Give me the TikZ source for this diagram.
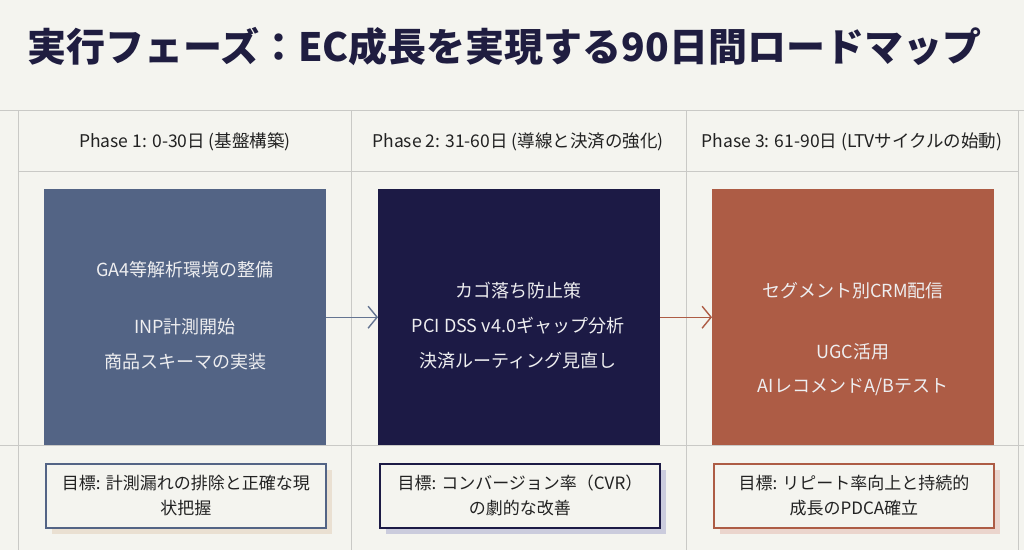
\documentclass[tikz,border=0pt]{standalone}
\usepackage{fontspec}
\setmainfont{Noto Sans CJK JP}
\usetikzlibrary{arrows.meta,shadows}
\definecolor{bg}{HTML}{F4F4EF}
\definecolor{gridc}{HTML}{C9C9C6}
\definecolor{titlec}{HTML}{1F1D40}
\definecolor{txt}{HTML}{222222}
\definecolor{cA}{HTML}{536485}
\definecolor{cB}{HTML}{1C1A45}
\definecolor{cC}{HTML}{AD5C45}
\definecolor{shA}{HTML}{EAE0D2}
\definecolor{shB}{HTML}{CBCCDD}
\definecolor{shC}{HTML}{EBD5CD}
\definecolor{boxtxt}{HTML}{EEEEF0}
\tikzset{
  phasebox/.style={anchor=north west, inner sep=0pt, minimum width=282pt, minimum height=256pt, draw=none},
  boxline/.style={text=boxtxt, font=\fontsize{18}{20}\selectfont, inner sep=0pt},
  header/.style={text=txt, font=\fontsize{17.5}{20}\selectfont, inner sep=0pt},
  goalbox/.style={anchor=north west, minimum width=280pt, minimum height=64pt, inner sep=0pt, fill=bg, line width=1.8pt, align=center, text=txt, font=\fontsize{17}{25}\selectfont},
  gridline/.style={draw=gridc, line width=0.9pt},
  flow/.style={line width=1.4pt, -{Straight Barb[length=9pt,width=22pt,line width=1.4pt]}}
}
\begin{document}
\begin{tikzpicture}[x=1pt,y=-1pt]
\fill[bg] (0,0) rectangle (1024,550);
\useasboundingbox (0,0) rectangle (1024,550);
% title
\node[anchor=west, inner sep=0pt, text=titlec, font=\fontsize{39}{42}\selectfont\bfseries] (title) at (27,47) {実行フェーズ：EC成長を実現する90日間ロードマップ};
% grid
\draw[gridline] (0,110) -- (1024,110);
\draw[gridline] (18,171) -- (1018,171);
\draw[gridline] (0,445) -- (1024,445);
\draw[gridline] (18,110) -- (18,550);
\draw[gridline] (351,110) -- (351,550);
\draw[gridline] (686,110) -- (686,550);
\draw[gridline] (1018,110) -- (1018,550);
% headers
\node[header] (h1) at (185,142) {Phase 1: 0-30日 (基盤構築)};
\node[header] (h2) at (518,142) {Phase 2: 31-60日 (導線と決済の強化)};
\node[header] (h3) at (852,142) {Phase 3: 61-90日 (LTVサイクルの始動)};
% phase boxes
\node[phasebox, fill=cA] (b1) at (44,189) {};
\node[phasebox, fill=cB] (b2) at (378,189) {};
\node[phasebox, fill=cC] (b3) at (712,189) {};
% box texts
\node[boxline] (t11) at (185,270) {GA4等解析環境の整備};
\node[boxline] (t12) at (185,327) {INP計測開始};
\node[boxline] (t13) at (185,362) {商品スキーマの実装};
\node[boxline] (t21) at (518,291) {カゴ落ち防止策};
\node[boxline] (t22) at (518,326) {PCI DSS v4.0ギャップ分析};
\node[boxline] (t23) at (518,361) {決済ルーティング見直し};
\node[boxline] (t31) at (853,291) {セグメント別CRM配信};
\node[boxline] (t32) at (853,352) {UGC活用};
\node[boxline] (t33) at (853,387) {AIレコメンドA/Bテスト};
% arrows
\draw[flow, draw=cA!90] (b1.east) -- (b2.west);
\draw[flow, draw=cC] (b2.east) -- (b3.west);
% goal boxes
\node[goalbox, draw=cA, copy shadow={shadow xshift=6pt, shadow yshift=-6pt, fill=shA, draw=none}] (g1) at (45,463) {目標: 計測漏れの排除と正確な現\\状把握};
\node[goalbox, draw=cB, copy shadow={shadow xshift=6pt, shadow yshift=-6pt, fill=shB, draw=none}] (g2) at (379,463) {目標: コンバージョン率（CVR）\\の劇的な改善};
\node[goalbox, draw=cC, copy shadow={shadow xshift=6pt, shadow yshift=-6pt, fill=shC, draw=none}] (g3) at (713,463) {目標: リピート率向上と持続的\\成長のPDCA確立};
\end{tikzpicture}
\end{document}
